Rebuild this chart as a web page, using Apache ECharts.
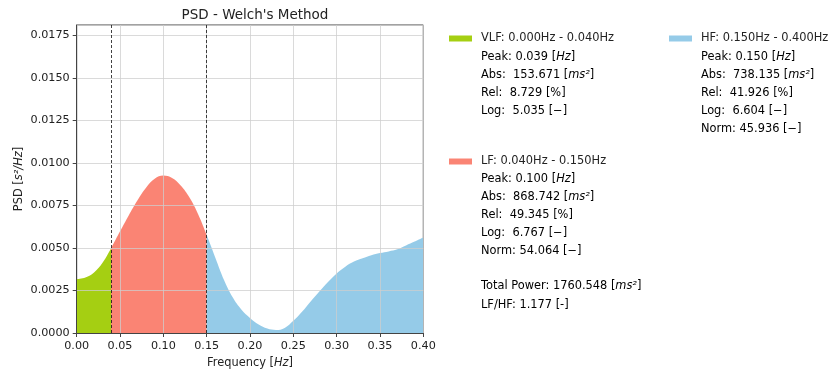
<!DOCTYPE html>
<html>
<head>
<meta charset="utf-8">
<script src="https://cdn.jsdelivr.net/npm/echarts@6/dist/echarts.min.js"></script>
<style>
html,body{margin:0;padding:0;background:#fff;}
#chart{width:831px;height:374px;}
</style>
</head>
<body>
<div id="chart"></div>
<script>
// ---- data ----
const freqs = [0.00,0.01,0.02,0.03,0.04,0.05,0.06,0.07,0.08,0.09,0.10,0.11,0.12,0.13,0.14,0.15,0.16,0.17,0.18,0.19,0.20,0.21,0.22,0.23,0.24,0.25,0.26,0.27,0.28,0.29,0.30,0.31,0.32,0.33,0.34,0.35,0.36,0.37,0.38,0.39,0.40];
const psd = [0.00316,0.00326,0.00356,0.00415,0.00502,0.00598,0.00692,0.00780,0.00855,0.00908,0.00926,0.00912,0.00868,0.00798,0.00700,0.00576,0.00443,0.00312,0.00210,0.00138,0.00088,0.00050,0.00026,0.00018,0.00030,0.00072,0.00125,0.00186,0.00244,0.00300,0.00350,0.00390,0.00420,0.00440,0.00458,0.00470,0.00480,0.00492,0.00515,0.00538,0.00562];
const bandNames = ['VLF','LF','HF'];
const bandLow = [0.000,0.040,0.150];
const bandHigh = [0.040,0.150,0.400];
const bandColors = ['#a5cf12','#fa8474','#95cbe8'];
const peakHz = ['0.039','0.100','0.150'];
const absPow = ['153.671','868.742','738.135'];
const relPow = ['8.729','49.345','41.926'];
const logPow = ['5.035','6.767','6.604'];
const normPow = [null,'54.064','45.936'];
const totalPower = '1760.548';
const lfhf = '1.177';
const xTicks = [0.00,0.05,0.10,0.15,0.20,0.25,0.30,0.35,0.40];
const yTicks = [0.0000,0.0025,0.0050,0.0075,0.0100,0.0125,0.0150,0.0175];

// ---- build ----
const FONT = 'DejaVu Sans';
const seriesNames = bandNames.map((n,i)=> n + ': ' + bandLow[i].toFixed(3) + 'Hz - ' + bandHigh[i].toFixed(3) + 'Hz');

const psdData = freqs.map((f,k)=>[f, psd[k]]);

const series = [{
  name:'PSD',
  type:'line',
  data: psdData,
  smooth:0.4,
  showSymbol:false,
  symbol:'none',
  lineStyle:{width:0},
  areaStyle:{opacity:1},
  z:2,
  silent:true,
  markLine:{
    silent:true, symbol:'none', label:{show:false},
    lineStyle:{color:'#111', type:[3,2], width:0.8},
    data:[{xAxis:bandLow[1]},{xAxis:bandHigh[1]}]
  }
}];
// legend-only series
bandNames.forEach((n,i)=>{
  series.push({name:seriesNames[i], type:'line', data:[], itemStyle:{color:bandColors[i]}, lineStyle:{color:bandColors[i]}});
});

const rich = {
  n:{fontFamily:FONT,fontSize:11.4,color:'#222'},
  i:{fontFamily:FONT,fontSize:11.4,color:'#222',fontStyle:'italic'}
};

const legendLeft = [449, 449, 669];
const legendTop = [33, 156, 33];
const detailX = [481, 481, 701];
const detailY0 = [57.5, 179.5, 57.5];
const lineStep = 17.8;

const graphics = [];
bandNames.forEach((n,i)=>{
  const lines = [
    '{n|Peak: ' + peakHz[i] + ' [}{i|Hz}{n|]}',
    '{n|Abs:  ' + absPow[i] + ' [}{i|ms²}{n|]}',
    '{n|Rel:  ' + relPow[i] + ' [%]}',
    '{n|Log:  ' + logPow[i] + ' [−]}'
  ];
  if(normPow[i]) lines.push('{n|Norm: ' + normPow[i] + ' [−]}');
  lines.forEach((t,k)=>{
    graphics.push({type:'text', x:detailX[i], y:detailY0[i]+k*lineStep,
      style:{text:t, rich:rich, verticalAlign:'middle', align:'left'}});
  });
});
graphics.push({type:'text', x:481, y:286, style:{text:'{n|Total Power: ' + totalPower + ' [}{i|ms²}{n|]}', rich:rich, verticalAlign:'middle'}});
graphics.push({type:'text', x:481, y:305, style:{text:'{n|LF/HF: ' + lfhf + ' [-]}', rich:rich, verticalAlign:'middle'}});

const legends = bandNames.map((n,i)=>({
  data:[seriesNames[i]],
  left:legendLeft[i], top:legendTop[i],
  orient:'vertical', padding:0,
  icon:'rect', itemWidth:23, itemHeight:6,
  selectedMode:false,
  itemStyle:{color:bandColors[i]},
  textStyle:{fontFamily:FONT, fontSize:11.4, color:'#222', padding:[0,0,0,4]}
}));

const option = {
  animation:false,
  backgroundColor:'#fff',
  title:{text:"PSD - Welch's Method", left:250, top:3, textAlign:'center',
    textStyle:{fontFamily:FONT, fontSize:13.5, fontWeight:'normal', color:'#222'}},
  legend: legends,
  visualMap:{
    show:false, type:'piecewise', dimension:0, seriesIndex:0,
    pieces:[
      {gte:bandLow[0], lt:bandHigh[0], color:bandColors[0]},
      {gte:bandLow[1], lt:bandHigh[1], color:bandColors[1]},
      {gte:bandLow[2], lte:bandHigh[2], color:bandColors[2]}
    ]
  },
  grid:{left:76.7, right:407.7, top:25, bottom:39, show:true, borderColor:'#444', borderWidth:1, containLabel:false},
  xAxis:{type:'value', min:xTicks[0], max:xTicks[xTicks.length-1], interval:0.05, z:5,
    name:'{n|Frequency [}{i|Hz}{n|]}', nameLocation:'middle', nameGap:25,
    nameTextStyle:{rich:rich},
    axisLine:{show:true, lineStyle:{color:'#444', width:1}},
    axisTick:{show:true, length:4, lineStyle:{color:'#444'}},
    axisLabel:{fontFamily:FONT, fontSize:11.2, color:'#222', margin:8, formatter:v=>v.toFixed(2)},
    splitLine:{show:true, lineStyle:{color:'rgba(205,205,205,0.75)', width:1}}
  },
  yAxis:{type:'value', min:yTicks[0], max:0.01812, interval:0.0025, z:5,
    name:'{n|PSD [}{i|s²/Hz}{n|]}', nameLocation:'middle', nameGap:52, nameRotate:90,
    nameTextStyle:{rich:rich},
    axisLine:{show:true, lineStyle:{color:'#444', width:1}},
    axisTick:{show:true, length:4, lineStyle:{color:'#444'}},
    axisLabel:{fontFamily:FONT, fontSize:11.2, color:'#222', margin:7, showMaxLabel:false,
      formatter:v=> yTicks.some(t=>Math.abs(t-v)<1e-9) ? v.toFixed(4) : ''},
    splitLine:{show:true, lineStyle:{color:'rgba(205,205,205,0.75)', width:1}}
  },
  series: series,
  graphic: graphics
};

const chart = echarts.init(document.getElementById('chart'), null, {renderer:'canvas'});
chart.setOption(option);
</script>
</body>
</html>
